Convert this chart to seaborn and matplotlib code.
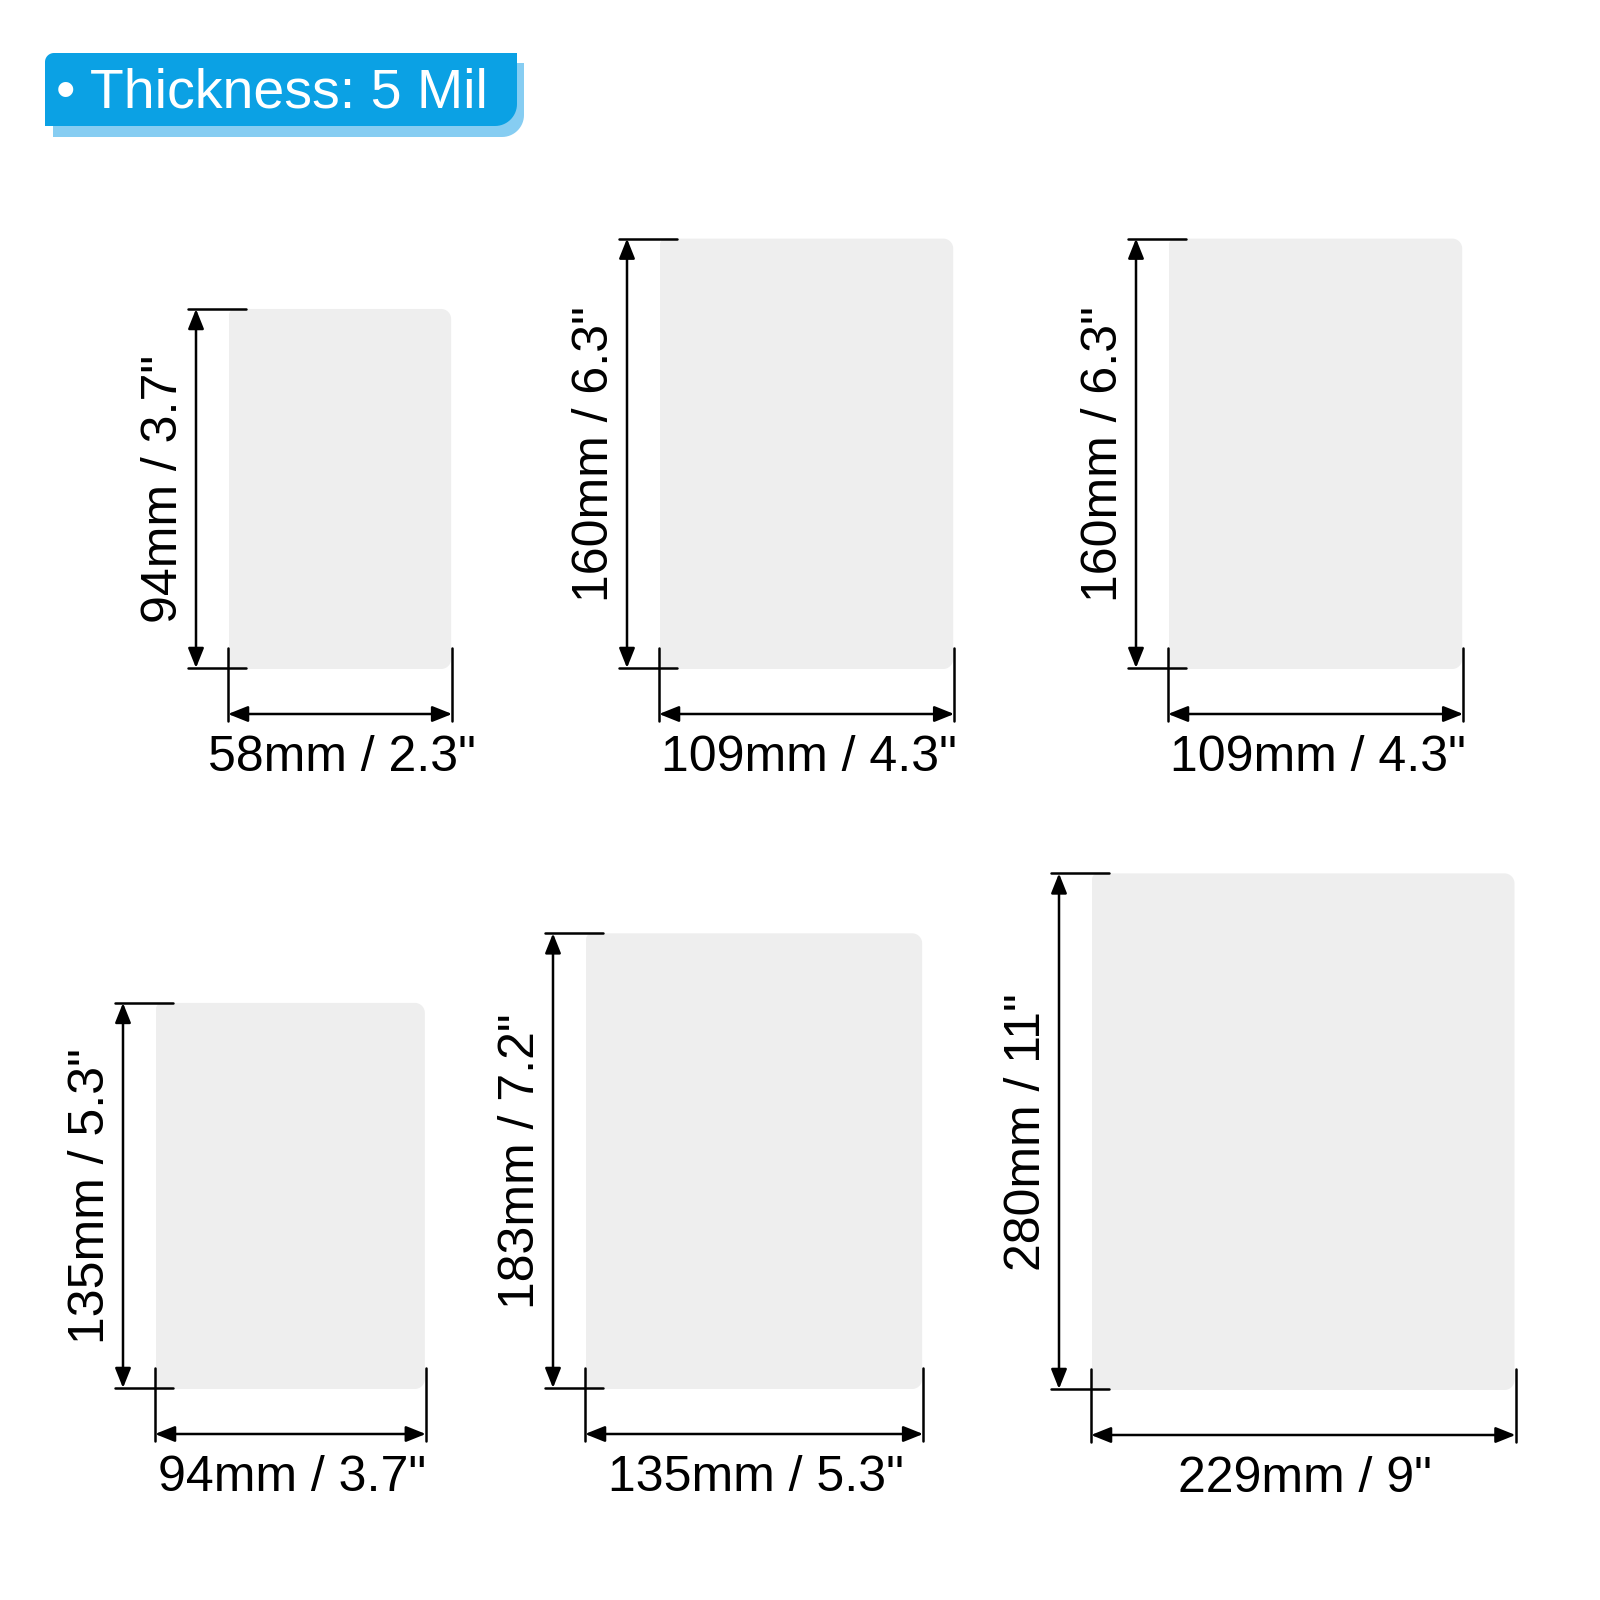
import numpy as np
import matplotlib
matplotlib.use("Agg")
import matplotlib.pyplot as plt
from matplotlib.patches import Polygon
import seaborn as sns


"""Data"""

widths_mm = [58, 109, 109, 94, 135, 229]
heights_mm = [94, 160, 160, 135, 183, 280]
widths_in = ["2.3", "4.3", "4.3", "3.7", "5.3", "9"]
heights_in = ["3.7", "6.3", "6.3", "5.3", "7.2", "11"]
thickness_mil = 5

"""Layout (pixels, y grows downward)"""

sheet_left = [229, 660, 1169, 156, 586, 1092]
sheet_bottom = [669, 669, 669, 1389, 1389, 1390]
px_per_mm = [3.83, 2.69, 2.69, 2.86, 2.49, 1.845]

SHEET_COLOR = "#EEEEEE"
LINE_COLOR = "black"
BADGE_BLUE = "#0BA1E4"
BADGE_SHADOW = "#86CDF2"
LW = 1.8
FONT_SIZE = 36


def Rounded_Outline(x0, y0, x1, y1, radii):
    # radii: top-left, top-right, bottom-right, bottom-left
    tl, tr, br, bl = radii
    pts = []
    corners = [(x0 + tl, y0 + tl, tl, np.pi, 1.5 * np.pi),
               (x1 - tr, y0 + tr, tr, 1.5 * np.pi, 2 * np.pi),
               (x1 - br, y1 - br, br, 0, 0.5 * np.pi),
               (x0 + bl, y1 - bl, bl, 0.5 * np.pi, np.pi)]
    for cx, cy, r, a0, a1 in corners:
        t = np.linspace(a0, a1, 16)
        pts.extend(zip(cx + r * np.cos(t), cy + r * np.sin(t)))
    return np.array(pts)


def Arrow(ax, p0, p1):
    ax.annotate("", xy=p1, xytext=p0,
                arrowprops=dict(arrowstyle="<|-|>,head_length=0.6,head_width=0.24",
                                color=LINE_COLOR, lw=LW, shrinkA=0, shrinkB=0,
                                mutation_scale=20))


def Draw_Sheet(ax, i):
    w = widths_mm[i] * px_per_mm[i]
    h = heights_mm[i] * px_per_mm[i]
    left = sheet_left[i]
    bottom = sheet_bottom[i]
    right = left + w
    top = bottom - h
    ax.add_patch(Polygon(Rounded_Outline(left, top, right, bottom, (6, 10, 10, 6)),
                         closed=True, facecolor=SHEET_COLOR, edgecolor="none", zorder=1))

    # height dimension
    dim_x = left - 33
    ax.plot([left - 41, left + 17], [top, top], color=LINE_COLOR, lw=LW, zorder=3)
    ax.plot([left - 41, left + 17], [bottom - 1, bottom - 1], color=LINE_COLOR, lw=LW, zorder=3)
    Arrow(ax, (dim_x, bottom - 1), (dim_x, top))
    ax.text(dim_x - 19, (top + bottom) / 2, f'{heights_mm[i]}mm / {heights_in[i]}"',
            rotation=90, rotation_mode="anchor", ha="center", va="baseline",
            fontsize=FONT_SIZE, color=LINE_COLOR)

    # width dimension
    dim_y = bottom + 45
    for x in (left - 1, right + 1):
        ax.plot([x, x], [bottom - 21, bottom + 52], color=LINE_COLOR, lw=LW, zorder=3)
    Arrow(ax, (left - 1, dim_y), (right + 1, dim_y))
    ax.text((left + right) / 2 + 2, bottom + 102, f'{widths_mm[i]}mm / {widths_in[i]}"',
            ha="center", va="baseline", fontsize=FONT_SIZE, color=LINE_COLOR)


def Draw_Badge(ax):
    ax.add_patch(Polygon(Rounded_Outline(53, 63, 524, 137, (0, 0, 22, 0)),
                         closed=True, facecolor=BADGE_SHADOW, edgecolor="none", zorder=1))
    ax.add_patch(Polygon(Rounded_Outline(45, 53, 517, 126, (9, 0, 22, 0)),
                         closed=True, facecolor=BADGE_BLUE, edgecolor="none", zorder=2))
    ax.text(56, 107, f"\u2022 Thickness: {thickness_mil} Mil", ha="left", va="baseline",
            fontsize=40, color="white", zorder=3)


"""Main"""
sns.set_theme(style="white")
plt.rcParams["font.family"] = ["Liberation Sans", "DejaVu Sans"]

fig = plt.figure(figsize=(16, 16), dpi=100)
ax = fig.add_axes([0, 0, 1, 1])
ax.set_xlim(0, 1600)
ax.set_ylim(1600, 0)
ax.axis("off")

Draw_Badge(ax)
for i in range(len(widths_mm)):
    Draw_Sheet(ax, i)

fig.savefig("out.png", dpi=100, facecolor="white")
